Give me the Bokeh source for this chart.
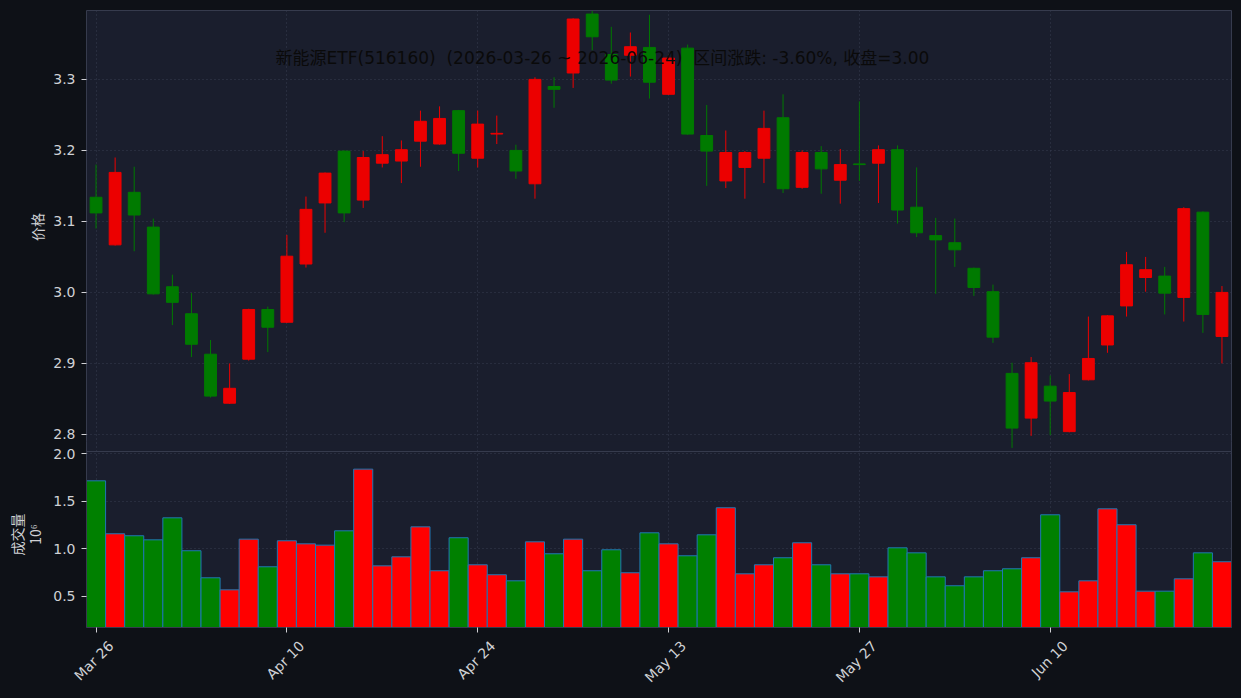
import math
from datetime import datetime
from bokeh.plotting import figure
from bokeh.models import (ColumnDataSource, FixedTicker, Range1d, Span, LinearAxis, Label,
                          CustomJSTickFormatter, PrintfTickFormatter)
from bokeh.layouts import column
from bokeh.embed import file_html
from bokeh.resources import INLINE

# ---------------- data ----------------
dates = [
    "2026-03-26", "2026-03-27", "2026-03-30", "2026-03-31", "2026-04-01", "2026-04-02", "2026-04-03",
    "2026-04-07", "2026-04-08", "2026-04-09", "2026-04-10", "2026-04-13", "2026-04-14", "2026-04-15",
    "2026-04-16", "2026-04-17", "2026-04-20", "2026-04-21", "2026-04-22", "2026-04-23", "2026-04-24",
    "2026-04-27", "2026-04-28", "2026-04-29", "2026-04-30", "2026-05-06", "2026-05-07", "2026-05-08",
    "2026-05-11", "2026-05-12", "2026-05-13", "2026-05-14", "2026-05-15", "2026-05-18", "2026-05-19",
    "2026-05-20", "2026-05-21", "2026-05-22", "2026-05-25", "2026-05-26", "2026-05-27", "2026-05-28",
    "2026-05-29", "2026-06-01", "2026-06-02", "2026-06-03", "2026-06-04", "2026-06-05", "2026-06-08",
    "2026-06-09", "2026-06-10", "2026-06-11", "2026-06-12", "2026-06-15", "2026-06-16", "2026-06-17",
    "2026-06-18", "2026-06-22", "2026-06-23", "2026-06-24",
]

open_ = [3.134, 3.067, 3.141, 3.092, 3.008, 2.970, 2.913, 2.844, 2.906, 2.976,
         2.958, 3.040, 3.126, 3.199, 3.130, 3.182, 3.185, 3.213, 3.209, 3.256,
         3.189, 3.223, 3.200, 3.153, 3.290, 3.309, 3.392, 3.335, 3.334, 3.345,
         3.279, 3.344, 3.221, 3.157, 3.176, 3.189, 3.246, 3.148, 3.197, 3.158,
         3.181, 3.182, 3.201, 3.120, 3.080, 3.070, 3.034, 3.001, 2.886, 2.823,
         2.868, 2.804, 2.877, 2.926, 2.981, 3.021, 3.023, 2.993, 3.113, 2.938]
high = [3.180, 3.190, 3.177, 3.104, 3.025, 2.999, 2.933, 2.900, 2.977, 2.980,
        3.081, 3.135, 3.169, 3.200, 3.199, 3.220, 3.214, 3.256, 3.262, 3.257,
        3.256, 3.249, 3.208, 3.303, 3.303, 3.386, 3.400, 3.374, 3.366, 3.391,
        3.332, 3.349, 3.264, 3.228, 3.199, 3.256, 3.279, 3.200, 3.206, 3.202,
        3.269, 3.207, 3.207, 3.176, 3.105, 3.104, 3.035, 3.011, 2.901, 2.909,
        2.883, 2.885, 2.966, 2.968, 3.057, 3.050, 3.036, 3.120, 3.114, 3.009]
low = [3.090, 3.066, 3.058, 2.997, 2.954, 2.909, 2.852, 2.843, 2.904, 2.916,
       2.957, 3.035, 3.084, 3.099, 3.119, 3.176, 3.154, 3.177, 3.208, 3.171,
       3.176, 3.209, 3.160, 3.132, 3.260, 3.288, 3.341, 3.294, 3.304, 3.273,
       3.278, 3.222, 3.150, 3.147, 3.132, 3.154, 3.140, 3.146, 3.139, 3.125,
       3.157, 3.126, 3.097, 3.078, 2.998, 3.036, 2.995, 2.929, 2.781, 2.798,
       2.799, 2.803, 2.876, 2.915, 2.966, 3.001, 2.969, 2.959, 2.943, 2.900]
close = [3.112, 3.169, 3.109, 2.998, 2.986, 2.927, 2.854, 2.865, 2.976, 2.951,
         3.051, 3.117, 3.168, 3.112, 3.190, 3.194, 3.201, 3.241, 3.245, 3.196,
         3.237, 3.224, 3.171, 3.300, 3.286, 3.385, 3.360, 3.299, 3.346, 3.296,
         3.330, 3.223, 3.199, 3.197, 3.197, 3.231, 3.146, 3.197, 3.174, 3.180,
         3.180, 3.201, 3.116, 3.084, 3.074, 3.060, 3.007, 2.937, 2.809, 2.901,
         2.847, 2.859, 2.907, 2.967, 3.039, 3.032, 2.999, 3.118, 2.969, 3.000]
# volume in units of 10^6
volume = [1.715, 1.157, 1.136, 1.093, 1.325, 0.978, 0.693, 0.566, 1.100, 0.809,
          1.083, 1.051, 1.037, 1.188, 1.838, 0.819, 0.914, 1.230, 0.767, 1.115,
          0.830, 0.725, 0.661, 1.072, 0.946, 1.100, 0.767, 0.988, 0.746, 1.167,
          1.051, 0.925, 1.146, 1.431, 0.735, 0.830, 0.904, 1.062, 0.830, 0.735,
          0.735, 0.703, 1.009, 0.956, 0.703, 0.609, 0.703, 0.767, 0.788, 0.904,
          1.357, 0.545, 0.661, 1.420, 1.252, 0.552, 0.552, 0.682, 0.956, 0.862]

price_ticks = [2.8, 2.9, 3.0, 3.1, 3.2, 3.3]
volume_ticks = [0.5, 1.0, 1.5, 2.0]
date_tick_every = 10
price_lim = (2.776, 3.397)
volume_lim = (0.169, 2.024)

title_text = "新能源ETF(516160) \u00a0(2026-03-26 ~ 2026-06-24) \u00a0区间涨跌: -3.60%, 收盘=3.00"
price_label = "价格"
volume_label = "成交量\n10⁶"

# ---------------- layout / styles ----------------
W, H = 1241, 698
FL, FR, FT, FB = 86, 1231, 10, 627      # frame edges (page px)
SPLIT = 451                              # price / volume boundary (page px)
CUT = 443                                # bottom of the price figure (page px)
OVERLAP = 2                              # volume figure slides under the seam by this much
LABEL_SHIFT_PX = 15                      # rotated date labels are centred on the tick
FONT = "DejaVu Sans, Noto Sans CJK SC"
CJK = "Noto Sans CJK SC"
OUTER_BG = "#0e1117"
PLOT_BG = "#1a1e2d"
GRID = "#373d50"
SPINE = "#363b4d"
TXT = "#d0d1d5"
UP_C, DOWN_C = "#ec0000", "#007a00"
UP_V, DOWN_V = "#ff0000", "#008000"

n = len(dates)
xs = list(range(n))
up = [c >= o for o, c in zip(open_, close)]
xlo, xhi = -0.5, n - 0.5

P0, P1 = price_lim
V0, V1 = volume_lim
p_per_px = (P1 - P0) / (SPLIT - FT)
v_per_px = (V1 - V0) / (FB - SPLIT)
top2 = CUT - OVERLAP                              # page y of the volume figure's top edge
price_cut = P1 - (CUT - FT) * p_per_px            # price value at the bottom of figure 1
price_top2 = P1 - (top2 - FT) * p_per_px          # price value at the top of figure 2
vol_top = V1 + (SPLIT - top2) * v_per_px          # volume value at the top of figure 2

src = ColumnDataSource(dict(
    x=xs, open=open_, high=high, low=low, close=close, vol=volume,
    top=[max(o, c) for o, c in zip(open_, close)],
    bot=[min(o, c) for o, c in zip(open_, close)],
    ccol=[UP_C if u else DOWN_C for u in up],
    vcol=[UP_V if u else DOWN_V for u in up],
))

tick_idx = list(range(0, n, date_tick_every))
date_names = [datetime.strptime(d, "%Y-%m-%d").strftime("%b %d").replace(" 0", " ") for d in dates]
shift = LABEL_SHIFT_PX / (FR - FL) * (xhi - xlo)

xr = Range1d(xlo, xhi)


def base_style(p):
    p.background_fill_color = PLOT_BG
    p.border_fill_color = None          # the page behind is OUTER_BG
    p.outline_line_color = None
    for g in (p.xgrid, p.ygrid):
        g.grid_line_color = GRID
        g.grid_line_dash = "1 3"
        g.grid_line_width = 1
    p.xgrid.ticker = FixedTicker(ticks=tick_idx)
    for ax in (p.xaxis + p.yaxis):
        ax.axis_line_color = SPINE
        ax.axis_line_width = 1
        ax.major_tick_line_color = TXT
        ax.major_tick_out = 5
        ax.major_tick_in = 0
        ax.minor_tick_line_color = None
        ax.major_label_text_color = TXT
        ax.major_label_text_font = FONT
        ax.major_label_text_font_size = "14px"
        ax.major_label_standoff = 6
        ax.axis_label_text_color = TXT
        ax.axis_label_text_font = CJK
        ax.axis_label_text_font_size = "14px"
        ax.axis_label_text_font_style = "normal"


def border_axis(p, side):
    ax = LinearAxis(ticker=FixedTicker(ticks=[]), axis_line_color=SPINE, axis_line_width=1,
                    major_tick_line_color=None, minor_tick_line_color=None)
    p.add_layout(ax, side)


# ---- price figure ----
p1 = figure(width=W, height=CUT, x_range=xr, y_range=Range1d(price_cut, P1),
            output_backend="svg", toolbar_location=None,
            min_border_left=FL, min_border_right=W - FR, min_border_top=FT, min_border_bottom=0)
base_style(p1)
p1.xaxis.visible = False
p1.ygrid.ticker = FixedTicker(ticks=price_ticks)
p1.yaxis.ticker = FixedTicker(ticks=price_ticks)
p1.yaxis.formatter = PrintfTickFormatter(format="%.1f")
p1.yaxis.axis_label = price_label
p1.yaxis.axis_label_standoff = 3
border_axis(p1, "above")
border_axis(p1, "right")
p1.segment(x0="x", y0="low", x1="x", y1="high", source=src, line_color="ccol", line_width=1)
p1.vbar(x="x", width=0.62, top="top", bottom="bot", source=src,
        fill_color="ccol", line_color="ccol", line_width=1)
p1.add_layout(Label(x=xlo + (602 - FL) / (FR - FL) * (xhi - xlo), y=P1 - (57 - FT) * p_per_px,
                    text=title_text, text_align="center", text_baseline="middle",
                    text_font=FONT, text_font_size="17px", text_color="#0a0a0a"))

# ---- volume figure ----
p2 = figure(width=W, height=H - top2, x_range=xr, y_range=Range1d(V0, vol_top),
            output_backend="svg", toolbar_location=None,
            min_border_left=FL, min_border_right=W - FR, min_border_top=0, min_border_bottom=H - FB)
p2.margin = (-OVERLAP, 0, 0, 0)
p2.extra_y_ranges = {"price": Range1d(price_top2 - (FB - top2) * p_per_px, price_top2)}
base_style(p2)
p2.ygrid.ticker = FixedTicker(ticks=volume_ticks)
p2.yaxis.ticker = FixedTicker(ticks=volume_ticks)
p2.yaxis.formatter = PrintfTickFormatter(format="%.1f")
p2.yaxis.axis_label = volume_label
p2.yaxis.axis_label_standoff = 5
p2.yaxis.axis_label_text_line_height = 0.93
border_axis(p2, "right")
# wick ends that reach below the seam between the two figures
p2.segment(x0="x", y0="low", x1="x", y1="high", source=src, line_color="ccol", line_width=1,
           y_range_name="price")
p2.vbar(x="x", width=1.0, top="vol", bottom=0, source=src,
        fill_color="vcol", line_color="#1f77b4", line_width=1)
p2.add_layout(Span(location=V1, dimension="width", line_color=SPINE, line_width=1))

# x axis: minor ticks mark the dates, major (shifted) ticks carry the rotated labels
xa = p2.xaxis[0]
xa.ticker = FixedTicker(ticks=[i + shift for i in tick_idx], minor_ticks=tick_idx)
xa.formatter = CustomJSTickFormatter(args=dict(names=date_names, shift=shift),
                                     code="return names[Math.round(tick - shift)];")
xa.major_label_orientation = math.pi / 4
xa.major_tick_line_color = None
xa.major_tick_out = 0
xa.minor_tick_line_color = TXT
xa.minor_tick_out = 5
xa.minor_tick_in = 0
xa.major_label_standoff = 11

layout = column(p1, p2, spacing=0)

html = file_html(layout, INLINE)
page_css = ("<style>html, body { background-color: %s !important; margin: 0 !important; "
            "padding: 0 !important; overflow: hidden; }</style>" % OUTER_BG)
html = html.replace("</head>", page_css + "</head>", 1)
open("out.html", "w").write(html)
